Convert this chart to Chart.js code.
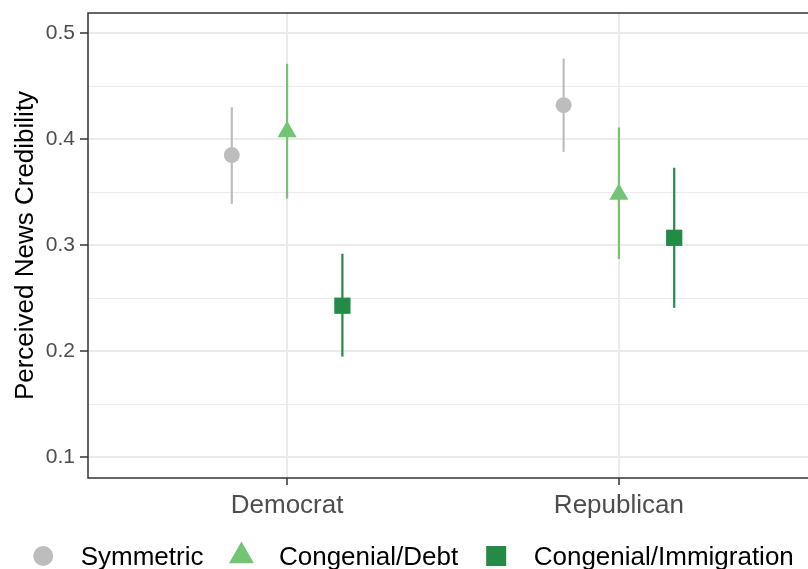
<!DOCTYPE html>
<html>
<head>
<meta charset="utf-8">
<title>Perceived News Credibility</title>
<script src="https://cdn.jsdelivr.net/npm/chart.js@4.4.0/dist/chart.umd.min.js"></script>
<style>
  html, body { margin: 0; padding: 0; background: #fff; overflow: hidden; }
  canvas { display: block; }
</style>
</head>
<body>
<canvas id="chart" width="830" height="580" style="width:830px;height:580px"></canvas>
<script>
// data
const categories = ["Democrat", "Republican"];
const seriesNames = ["Symmetric", "Congenial/Debt", "Congenial/Immigration"];
const symmetric = [0.385, 0.432];
const symmetricLow = [0.339, 0.388];
const symmetricHigh = [0.430, 0.476];
const debt = [0.407, 0.348];
const debtLow = [0.344, 0.287];
const debtHigh = [0.471, 0.411];
const immigration = [0.243, 0.307];
const immigrationLow = [0.195, 0.241];
const immigrationHigh = [0.292, 0.373];

const yMajor = [0.1, 0.2, 0.3, 0.4, 0.5];
const yMinor = [0.15, 0.25, 0.35, 0.45];

const colors = ["#bdbdbd", "#74c476", "#238b45"];
const styles = ["circle", "triangle", "rect"];
const radii = [8, 11, 11.5];
const dodge = [-1 / 6, 0, 1 / 6];

const est = [symmetric, debt, immigration];
const lows = [symmetricLow, debtLow, immigrationLow];
const highs = [symmetricHigh, debtHigh, immigrationHigh];

const isMajor = v => yMajor.some(m => Math.abs(m - v) < 1e-9);

const datasets = seriesNames.map((name, j) => ({
  label: name,
  data: categories.map((c, i) => ({ x: i + 1 + dodge[j], y: est[j][i], lo: lows[j][i], hi: highs[j][i] })),
  backgroundColor: colors[j],
  borderColor: colors[j],
  borderWidth: 0,
  pointStyle: styles[j],
  pointRadius: radii[j],
  pointHoverRadius: radii[j],
}));

// panel border + error bars, drawn under the points
const errorBars = {
  id: "errorBars",
  beforeDatasetsDraw(chart) {
    const { ctx, chartArea: a, scales: { x, y } } = chart;
    ctx.save();
    ctx.strokeStyle = "#333333";
    ctx.lineWidth = 1.5;
    ctx.strokeRect(a.left, a.top, a.right - a.left, a.bottom - a.top);
    chart.data.datasets.forEach((ds, j) => {
      ctx.strokeStyle = colors[j];
      ctx.lineWidth = 2.2;
      ds.data.forEach(p => {
        const px = x.getPixelForValue(p.x);
        ctx.beginPath();
        ctx.moveTo(px, y.getPixelForValue(p.lo));
        ctx.lineTo(px, y.getPixelForValue(p.hi));
        ctx.stroke();
      });
    });
    ctx.restore();
  }
};

// ggplot-like legend row at the bottom
const bottomLegend = {
  id: "bottomLegend",
  afterDraw(chart) {
    const ctx = chart.ctx;
    ctx.save();
    ctx.font = "26px 'Liberation Sans', Arial, sans-serif";
    ctx.textBaseline = "alphabetic";
    const widths = seriesNames.map(n => ctx.measureText(n).width);
    const toText = 37.5, toNext = 38, half = 10;
    let total = half;
    widths.forEach((w, i) => { total += toText + w + (i < widths.length - 1 ? toNext : 0); });
    let mx = chart.width / 2 - total / 2 + half - 1.5;
    const my = 556;
    seriesNames.forEach((name, j) => {
      ctx.fillStyle = colors[j];
      ctx.beginPath();
      if (styles[j] === "circle") {
        ctx.arc(mx, my, 10, 0, Math.PI * 2);
      } else if (styles[j] === "triangle") {
        const r = 14.4;
        ctx.moveTo(mx, my - r);
        ctx.lineTo(mx + r * Math.sqrt(3) / 2, my + r / 2);
        ctx.lineTo(mx - r * Math.sqrt(3) / 2, my + r / 2);
        ctx.closePath();
      } else {
        ctx.rect(mx - 10, my - 10, 20, 20);
      }
      ctx.fill();
      ctx.fillStyle = "#000000";
      ctx.fillText(name, mx + toText, 565);
      mx += toText + widths[j] + toNext;
    });
    ctx.restore();
  }
};

new Chart(document.getElementById("chart"), {
  type: "scatter",
  data: { datasets },
  options: {
    responsive: false,
    animation: false,
    layout: { padding: { top: 13, right: 12, left: 0, bottom: 0 } },
    plugins: {
      legend: { display: false },
      tooltip: { enabled: false }
    },
    scales: {
      x: {
        type: "linear",
        min: 0.4,
        max: 2.6,
        afterBuildTicks: s => { s.ticks = categories.map((c, i) => ({ value: i + 1 })); },
        afterFit: s => { s.height = 102; s.paddingLeft = 0; s.paddingRight = 0; },
        border: { display: false },
        grid: { color: "#ebebeb", lineWidth: 2, tickColor: "#333333", tickWidth: 1.5, tickLength: 7 },
        ticks: {
          autoSkip: false,
          maxRotation: 0,
          padding: 5,
          color: "#4d4d4d",
          font: { family: "'Liberation Sans', Arial, sans-serif", size: 26 },
          callback: v => categories[Math.round(v) - 1]
        }
      },
      y: {
        min: 0.0806,
        max: 0.5189,
        afterBuildTicks: s => {
          s.ticks = yMajor.concat(yMinor).sort((a, b) => a - b).map(v => ({ value: v }));
        },
        afterFit: s => { s.width = 88; s.paddingTop = 0; s.paddingBottom = 0; },
        border: { display: false },
        grid: {
          color: "#ebebeb",
          lineWidth: c => isMajor(c.tick.value) ? 2 : 1,
          tickColor: c => isMajor(c.tick.value) ? "#333333" : "rgba(0,0,0,0)",
          tickWidth: 1.5,
          tickLength: 8
        },
        ticks: {
          autoSkip: false,
          padding: 5,
          color: "#4d4d4d",
          font: { family: "'Liberation Sans', Arial, sans-serif", size: 21 },
          callback: v => isMajor(v) ? v.toFixed(1) : ""
        },
        title: {
          display: true,
          text: "Perceived News Credibility",
          color: "#000000",
          font: { family: "'Liberation Sans', Arial, sans-serif", size: 26 },
          padding: { top: 10, bottom: 0 }
        }
      }
    }
  },
  plugins: [errorBars, bottomLegend]
});
</script>
</body>
</html>
